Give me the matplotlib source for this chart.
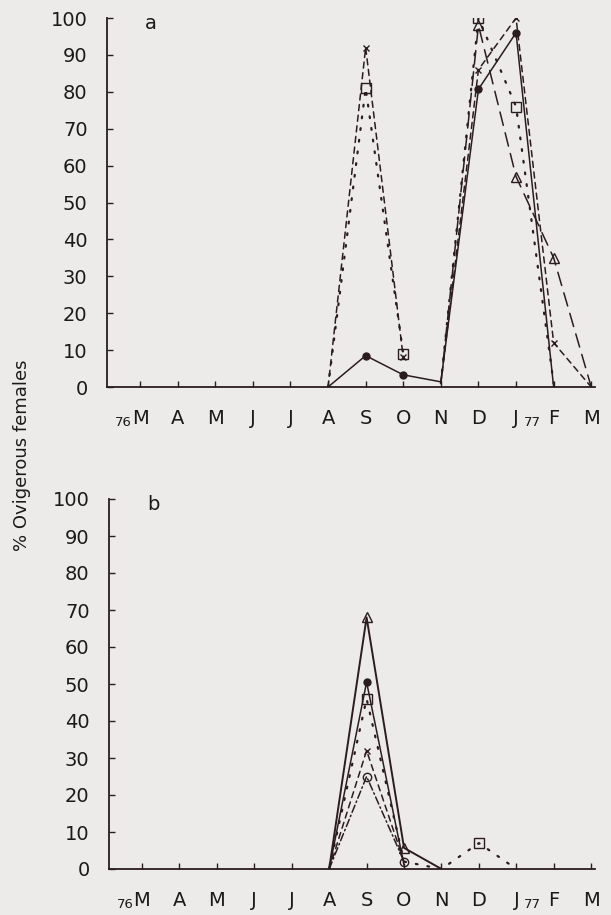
import numpy as np
import matplotlib
matplotlib.use("Agg")
import matplotlib.pyplot as plt

plt.rcParams['font.family'] = ['DejaVu Sans']

months = ['M', 'A', 'M', 'J', 'J', 'A', 'S', 'O', 'N', 'D', 'J', 'F', 'M']
yticks = [0, 10, 20, 30, 40, 50, 60, 70, 80, 90, 100]
ylabel = '% Ovigerous females'

# Panel a: each series as segments of (month index, value)
a_circle_x = [5, 6, 7, 8, 9, 10, 11]
a_circle_y = [0, 8.5, 3.3, 1.4, 80.7, 96, 0]
a_cross_x1 = [5, 6, 7]
a_cross_y1 = [0, 92, 8]
a_cross_x2 = [8, 9, 10, 11, 12]
a_cross_y2 = [1, 86, 100, 12, 0]
a_square_x1 = [5, 6, 7]
a_square_y1 = [0, 81, 9]
a_square_x2 = [8, 9, 10, 11]
a_square_y2 = [1, 100, 76, 1]
a_tri_x = [8, 9, 10, 11, 12]
a_tri_y = [1, 98, 57, 35, 0]

# Panel b
b_tri_x = [5, 6, 7, 8]
b_tri_y = [0, 68, 5.7, 0]
b_circle_x = [5, 6, 7]
b_circle_y = [0, 50.5, 1]
b_square_x = [5, 6, 7, 8, 9, 10]
b_square_y = [0, 46, 2, 0, 7, 0]
b_cross_x = [5, 6, 7]
b_cross_y = [0, 32, 2]
b_ocircle_x = [5, 6, 7]
b_ocircle_y = [0, 25, 2]

W, H = 611, 915
fig = plt.figure(figsize=(W / 100, H / 100), dpi=100)
bg = '#edebea'
fig.patch.set_facecolor(bg)
ink = '#2b1c22'

def px_axes(left, top, right, bottom):
    return fig.add_axes([left / W, 1 - bottom / H, (right - left) / W, (bottom - top) / H])

ax_a = px_axes(107, 18, 595, 387)
ax_b = px_axes(109, 499, 595, 869)

solid = '-'
dashed = (0, (4, 3))
dotted = (0, (0.8, 4.5))
longdash = (0, (9, 5))
dashdot = (0, (5, 2, 1, 2))

def series(ax, x, y, ls, marker, mfc, ms, lw=1.1, thresh=1.5):
    marks = [i for i, v in enumerate(y) if v >= thresh]
    ax.plot(x, y, linestyle=ls, color=ink, lw=lw, marker=marker, markersize=ms,
            markevery=marks, markerfacecolor=mfc, markeredgecolor=ink,
            markeredgewidth=1.0, dash_capstyle='round', solid_capstyle='round',
            zorder=3)

# panel a
series(ax_a, a_circle_x, a_circle_y, solid, 'o', ink, 5)
series(ax_a, a_cross_x1, a_cross_y1, dashed, 'x', ink, 5)
series(ax_a, a_cross_x2, a_cross_y2, dashed, 'x', ink, 5)
series(ax_a, a_square_x1, a_square_y1, dotted, 's', 'none', 7, lw=1.6)
series(ax_a, a_square_x2, a_square_y2, dotted, 's', 'none', 7, lw=1.6)
series(ax_a, a_tri_x, a_tri_y, longdash, '^', 'none', 7)

# panel b
series(ax_b, b_tri_x, b_tri_y, solid, '^', 'none', 7, lw=1.4)
series(ax_b, b_circle_x, b_circle_y, solid, 'o', ink, 5)
series(ax_b, b_square_x, b_square_y, dotted, 's', 'none', 7, lw=1.6, thresh=3)
series(ax_b, b_cross_x, b_cross_y, dashed, 'x', ink, 5, thresh=3)
series(ax_b, b_ocircle_x, b_ocircle_y, dashdot, 'o', 'none', 6)

for ax, lab in ((ax_a, 'a'), (ax_b, 'b')):
    ax.set_facecolor(bg)
    ax.set_xlim(-0.88, 12.1)
    ax.set_ylim(0, 100)
    for s in ('top', 'right'):
        ax.spines[s].set_visible(False)
    for s in ('left', 'bottom'):
        ax.spines[s].set_color(ink)
        ax.spines[s].set_linewidth(1.3)
    ax.set_yticks(yticks)
    ax.set_yticklabels([str(v) for v in yticks])
    ax.set_xticks(range(len(months)))
    ax.set_xticklabels(months)
    ax.tick_params(axis='both', direction='in', length=4, width=1, color=ink,
                   labelsize=14, labelcolor='#1a1a1a')
    ax.tick_params(axis='y', pad=14)
    ax.tick_params(axis='x', pad=16)
    ax.text(0.078, 0.985, lab, transform=ax.transAxes, fontsize=14,
            ha='left', va='center', color='#1a1a1a')
    # subscript years
    ax.text(-0.22, -0.095, '76', transform=ax.get_xaxis_transform(), fontsize=9.5,
            ha='right', va='center', color='#1a1a1a')
    ax.text(10.2, -0.095, '77', transform=ax.get_xaxis_transform(), fontsize=9.5,
            ha='left', va='center', color='#1a1a1a')

fig.text(22 / W, 1 - 455 / H, ylabel, rotation=90, ha='center', va='center',
         fontsize=13, color='#1a1a1a')

fig.savefig('out.png', dpi=100, facecolor=bg)
